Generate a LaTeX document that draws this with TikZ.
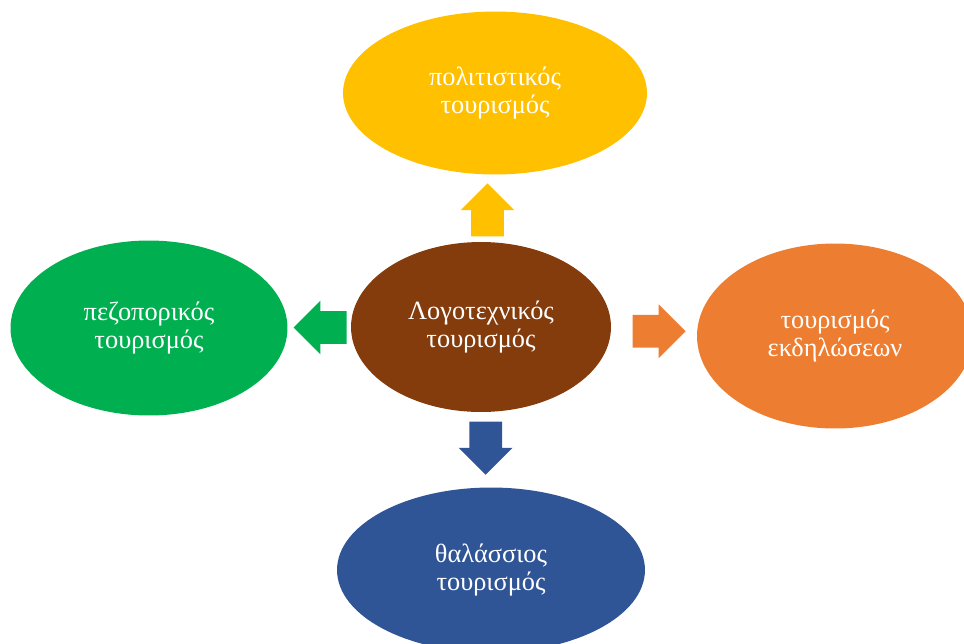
\documentclass[tikz,border=0pt]{standalone}
\usepackage{fontspec}
\setmainfont{Liberation Serif}
\usetikzlibrary{positioning,
        shapes,
        calc}
\definecolor{litbrown}{HTML}{843C0C}
\definecolor{cultyellow}{HTML}{FFC000}
\definecolor{eventorange}{HTML}{ED7D31}
\definecolor{seablue}{HTML}{2F5597}
\definecolor{hikegreen}{HTML}{00B050}

\begin{document}
\begin{tikzpicture}[x=0.02cm,y=-0.02cm,
            topic/.style={ellipse,inner sep=0pt,text=white,align=center,font=\fontsize{15}{15.5}\selectfont,
                execute at begin node={\rule{0pt}{16.5pt}}},
            blockarrow/.style={single arrow,inner xsep=0pt,inner ysep=0.32cm,minimum height=1.06cm,minimum width=1.06cm,single arrow head extend=0.21cm}]
            \useasboundingbox (0,0) rectangle (964,643);
            \node [topic,fill=litbrown,minimum width=5.2cm,minimum height=3.4cm] (lit) at (481,327) {Λογοτεχνικός\\τουρισμός};
            \node [topic,fill=cultyellow,minimum width=6.08cm,minimum height=3.26cm] (cult) at (495,93) {πολιτιστικός\\τουρισμός};
            \node [topic,fill=eventorange,minimum width=5.52cm,minimum height=3.7cm] (event) at (835,336) {τουρισμός\\εκδηλώσεων};
            \node [topic,fill=seablue,minimum width=6.16cm,minimum height=3.3cm] (sea) at (491,570) {θαλάσσιος\\τουρισμός};
            \node [topic,fill=hikegreen,minimum width=5.54cm,minimum height=3.5cm] (hike) at (149,328) {πεζοπορικός\\τουρισμός};

            \node [blockarrow,fill=cultyellow,rotate=90] (toCult) at ($(lit)!0.466!(cult)$) {};
            \node [blockarrow,fill=eventorange] (toEvent) at ($(lit)!0.48!(event)$) {};
            \node [blockarrow,fill=seablue,rotate=-90] (toSea) at ($(lit)!0.465!(sea)$) {};
            \node [blockarrow,fill=hikegreen,rotate=180] (toHike) at ($(lit)!0.46!(hike)$) {};
        \end{tikzpicture}
\end{document}
